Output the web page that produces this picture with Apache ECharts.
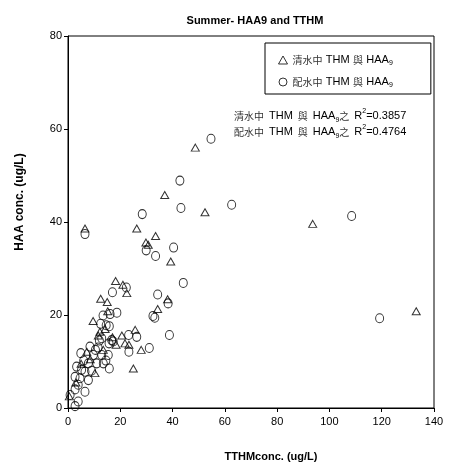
<!DOCTYPE html>
<html>
<head>
<meta charset="utf-8">
<script src="https://cdn.jsdelivr.net/npm/echarts@6/dist/echarts.min.js"></script>
<style>html,body{margin:0;padding:0;background:#fff}#c{width:449px;height:469px}</style>
</head>
<body>
<div id="c"></div>
<script>
// 清水中 THM 與 HAA9 (triangles)
const rawTTHM = [6.5,26.3,33.5,29.8,30.7,39.3,37.0,48.7,52.4,93.6,133.2,18.2,21.0,22.5,12.5,15.0,38.1,34.3,15.2,9.6,25.7,11.6,20.6,21.8,23.3,28.0,18.4,25.0,7.2,10.3,0.5,12.2,14.2,5.0,3.0,13.5,8.5,17.0];
const rawHAA  = [38.6,38.6,37.0,35.6,35.1,31.5,45.8,56.0,42.1,39.6,20.8,27.3,26.5,24.7,23.5,22.8,23.4,21.3,20.8,18.7,16.8,15.6,15.6,13.9,13.6,12.5,13.6,8.5,12.1,7.5,2.5,16.4,17.0,9.5,5.5,12.5,10.5,15.2];
// 配水中 THM 與 HAA9 (circles)
const distTTHM = [54.7,42.8,43.2,62.6,28.4,108.5,6.5,29.9,40.4,33.5,44.1,22.3,17.0,34.3,38.3,13.4,16.1,18.7,32.5,33.2,119.2,12.5,14.6,15.8,38.8,23.2,26.3,12.9,16.7,23.3,31.1,12.0,17.3,15.7,8.4,4.9,9.7,12.9,15.4,7.8,11.0,13.5,15.8,3.3,5.2,6.5,2.7,4.6,7.8,3.9,6.5,2.7,0.8,3.9,2.7,10.5,6.0,9.0,11.5,14.5];
const distHAA  = [57.9,48.9,43.0,43.7,41.7,41.3,37.4,33.9,34.5,32.7,26.9,25.9,24.9,24.4,22.5,19.9,20.2,20.5,19.8,19.4,19.3,18.1,17.8,17.6,15.7,15.7,15.3,15.0,14.6,12.1,12.9,14.5,14.3,13.9,13.2,11.8,11.4,11.4,11.4,9.6,9.6,9.6,8.5,8.9,8.2,7.8,6.7,6.4,6.0,5.0,3.5,4.0,2.8,1.4,0.4,12.5,10.2,8.0,13.0,10.2];
const seriesNames = ['清水中 THM 與 HAA9', '配水中 THM 與 HAA9'];
const r2Values = ['0.3857', '0.4764'];
const r2Prefix = ['清水中', '配水中'];

const zip = (a, b) => a.map((v, i) => [v, b[i]]);
const chart = echarts.init(document.getElementById('c'), null, {renderer: 'canvas'});
const sans = 'Liberation Sans, Arial, sans-serif';
const cjk = 'Noto Sans CJK TC';
const hollow = {color: 'transparent', borderColor: '#000', borderWidth: 1};
const richBase = {
  c: {fontFamily: cjk, fontSize: 10, fontWeight: 'normal', color: '#333', lineHeight: 16},
  t: {fontFamily: sans, fontSize: 11, fontWeight: 'normal', color: '#000', lineHeight: 16},
  s: {fontFamily: sans, fontSize: 7, fontWeight: 'normal', color: '#000', verticalAlign: 'bottom', padding: [6, 0, 0, 0]},
  p: {fontFamily: sans, fontSize: 7, fontWeight: 'normal', color: '#000', verticalAlign: 'top', padding: [0, 0, 5, 0]}
};
const legendRich = {
  c: Object.assign({}, richBase.c, {lineHeight: 14}),
  t: Object.assign({}, richBase.t, {lineHeight: 14}),
  s: richBase.s
};
const r2Text = (i) => `{c|${r2Prefix[i]}} {t|THM} {c|與} {t|HAA}{s|9}{c|之} {t|R}{p|2}{t|=${r2Values[i]}}`;

chart.setOption({
  animation: false,
  title: [
    {text: 'Summer- HAA9 and TTHM', left: 250, top: 10, textAlign: 'center',
     textStyle: {fontFamily: sans, fontSize: 11, fontWeight: 'bold', color: '#000'}},
    {text: r2Text(0) + '\n' + r2Text(1), left: 229, top: 103,
     textStyle: {fontWeight: 'normal', lineHeight: 16, rich: richBase}}
  ],
  legend: {
    orient: 'vertical', left: 265, top: 43,
    borderColor: '#000', borderWidth: 1, padding: [10, 38, 5, 13],
    itemWidth: 9, itemHeight: 8, itemGap: 8,
    data: [
      {name: seriesNames[0], icon: 'triangle', itemStyle: hollow},
      {name: seriesNames[1], icon: 'circle', itemStyle: hollow}
    ],
    formatter: (n) => {
      const p = n.split(' ');
      return `{c|${p[0]}} {t|THM} {c|與} {t|HAA}{s|9}`;
    },
    textStyle: {rich: legendRich, lineHeight: 14}
  },
  grid: {left: 68, right: 15, top: 36, bottom: 61, show: true, borderColor: '#000', borderWidth: 1, containLabel: false},
  xAxis: {
    type: 'value', min: 0, max: 140, interval: 20,
    name: 'TTHMconc. (ug/L)', nameLocation: 'middle', nameGap: 43,
    nameTextStyle: {fontFamily: sans, fontSize: 11, fontWeight: 'bold', color: '#000', padding: [0, 0, 0, 40]},
    axisLine: {lineStyle: {color: '#000'}},
    axisTick: {length: 4, lineStyle: {color: '#000'}},
    axisLabel: {fontFamily: sans, fontSize: 11, color: '#000', margin: 8},
    splitLine: {show: false}
  },
  yAxis: {
    type: 'value', min: 0, max: 80, interval: 20,
    name: 'HAA conc. (ug/L)', nameLocation: 'middle', nameGap: 42,
    nameTextStyle: {fontFamily: sans, fontSize: 12, fontWeight: 'bold', color: '#000', padding: [0, 0, 0, 40]},
    axisLine: {lineStyle: {color: '#000'}},
    axisTick: {length: 4, lineStyle: {color: '#000'}},
    axisLabel: {fontFamily: sans, fontSize: 11, color: '#000', margin: 6},
    splitLine: {show: false}
  },
  series: [
    {name: seriesNames[0], type: 'scatter', symbol: 'triangle', symbolSize: [8, 7],
     data: zip(rawTTHM, rawHAA), itemStyle: hollow, emphasis: {disabled: true}},
    {name: seriesNames[1], type: 'scatter', symbol: 'circle', symbolSize: [8, 9],
     data: zip(distTTHM, distHAA), itemStyle: hollow, emphasis: {disabled: true}}
  ]
});
</script>
</body>
</html>
